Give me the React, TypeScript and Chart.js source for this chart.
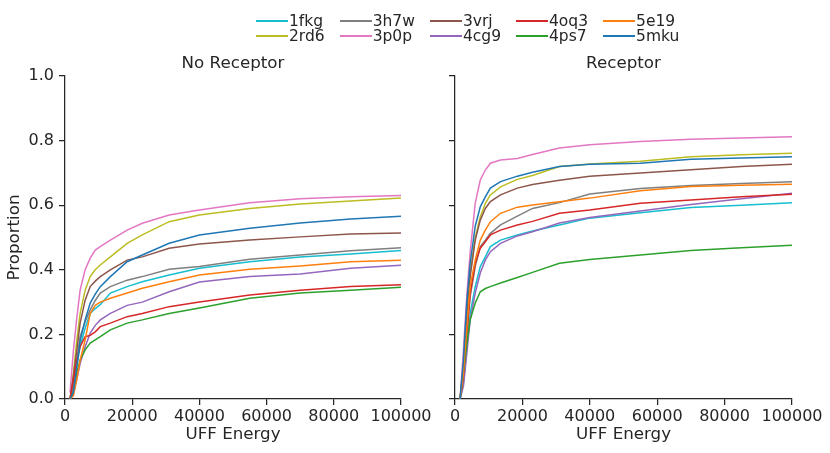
import React, { useEffect, useRef } from 'react';
import { Chart, registerables } from 'chart.js';

Chart.register(...registerables);

const FONT = "'DejaVu Sans', 'Liberation Sans', sans-serif";
const INK = '#262626';

// UFF energy grid (x) shared by every curve
const ENERGY = [1500, 2500, 3500, 4500, 6000, 7500, 9000, 10500, 13500, 18500, 23000, 31000, 40000, 55000, 70000, 85000, 100000];
const X_TICKS = [0, 20000, 40000, 60000, 80000, 100000];
const Y_TICKS = [0, 0.2, 0.4, 0.6, 0.8, 1.0];
const PANEL_TITLES = ['No Receptor', 'Receptor'];
const X_LABEL = 'UFF Energy';
const Y_LABEL = 'Proportion';

const LIGANDS = ['1fkg', '2rd6', '3h7w', '3p0p', '3vrj', '4cg9', '4oq3', '4ps7', '5e19', '5mku'];
const COLORS = ['#17becf', '#bcbd22', '#7f7f7f', '#e377c2', '#8c564b', '#9467bd', '#d62728', '#2ca02c', '#ff7f0e', '#1f77b4'];

// No Receptor panel
const NR_1FKG = [0, 0.03, 0.10, 0.162, 0.22, 0.265, 0.28, 0.292, 0.328, 0.348, 0.363, 0.384, 0.405, 0.425, 0.44, 0.449, 0.46];
const NR_2RD6 = [0, 0.08, 0.18, 0.265, 0.337, 0.379, 0.40, 0.415, 0.44, 0.482, 0.508, 0.549, 0.57, 0.59, 0.604, 0.613, 0.622];
const NR_3H7W = [0, 0.04, 0.12, 0.193, 0.24, 0.276, 0.305, 0.328, 0.348, 0.368, 0.379, 0.402, 0.41, 0.433, 0.446, 0.459, 0.468];
const NR_3P0P = [0.02, 0.15, 0.25, 0.337, 0.40, 0.436, 0.461, 0.472, 0.492, 0.523, 0.544, 0.57, 0.585, 0.608, 0.62, 0.626, 0.63];
const NR_3VRJ = [0, 0.07, 0.15, 0.235, 0.306, 0.348, 0.365, 0.379, 0.40, 0.43, 0.44, 0.467, 0.48, 0.492, 0.502, 0.511, 0.514];
const NR_4CG9 = [0, 0.02, 0.06, 0.11, 0.162, 0.204, 0.228, 0.245, 0.265, 0.29, 0.30, 0.332, 0.362, 0.379, 0.387, 0.405, 0.414];
const NR_4OQ3 = [0, 0.06, 0.12, 0.162, 0.193, 0.197, 0.208, 0.224, 0.235, 0.255, 0.265, 0.286, 0.30, 0.322, 0.337, 0.348, 0.354];
const NR_4PS7 = [0, 0.02, 0.08, 0.121, 0.152, 0.173, 0.183, 0.193, 0.214, 0.235, 0.245, 0.265, 0.282, 0.312, 0.328, 0.337, 0.346];
const NR_5E19 = [0, 0.01, 0.06, 0.12, 0.183, 0.265, 0.29, 0.30, 0.312, 0.328, 0.343, 0.363, 0.384, 0.402, 0.412, 0.425, 0.43];
const NR_5MKU = [0, 0.02, 0.10, 0.18, 0.245, 0.297, 0.325, 0.348, 0.379, 0.425, 0.446, 0.482, 0.508, 0.529, 0.545, 0.557, 0.566];

// Receptor panel
const R_1FKG = [0, 0.05, 0.16, 0.265, 0.348, 0.41, 0.44, 0.472, 0.492, 0.508, 0.52, 0.539, 0.56, 0.577, 0.593, 0.60, 0.608];
const R_2RD6 = [0, 0.10, 0.27, 0.39, 0.50, 0.564, 0.606, 0.632, 0.657, 0.68, 0.692, 0.72, 0.728, 0.736, 0.75, 0.756, 0.761];
const R_3H7W = [0, 0.07, 0.20, 0.317, 0.41, 0.472, 0.492, 0.513, 0.539, 0.566, 0.59, 0.608, 0.635, 0.652, 0.661, 0.667, 0.673];
const R_3P0P = [0, 0.15, 0.32, 0.455, 0.606, 0.678, 0.709, 0.73, 0.74, 0.745, 0.757, 0.777, 0.787, 0.797, 0.804, 0.808, 0.812];
const R_3VRJ = [0, 0.10, 0.26, 0.38, 0.492, 0.554, 0.59, 0.611, 0.632, 0.653, 0.664, 0.677, 0.69, 0.70, 0.71, 0.72, 0.727];
const R_4CG9 = [0, 0.04, 0.14, 0.245, 0.328, 0.39, 0.43, 0.456, 0.482, 0.505, 0.518, 0.545, 0.562, 0.582, 0.602, 0.62, 0.637];
const R_4OQ3 = [0, 0.07, 0.20, 0.327, 0.42, 0.467, 0.487, 0.508, 0.523, 0.539, 0.55, 0.575, 0.585, 0.606, 0.616, 0.626, 0.634];
const R_4PS7 = [0, 0.08, 0.17, 0.245, 0.297, 0.332, 0.342, 0.348, 0.359, 0.376, 0.392, 0.42, 0.432, 0.446, 0.46, 0.468, 0.476];
const R_5E19 = [0, 0.08, 0.22, 0.35, 0.43, 0.492, 0.523, 0.549, 0.575, 0.594, 0.601, 0.611, 0.622, 0.645, 0.658, 0.662, 0.665];
const R_5MKU = [0, 0.12, 0.30, 0.42, 0.535, 0.595, 0.626, 0.653, 0.673, 0.69, 0.702, 0.72, 0.727, 0.73, 0.742, 0.746, 0.75];

const NO_RECEPTOR = [NR_1FKG, NR_2RD6, NR_3H7W, NR_3P0P, NR_3VRJ, NR_4CG9, NR_4OQ3, NR_4PS7, NR_5E19, NR_5MKU];
const RECEPTOR = [R_1FKG, R_2RD6, R_3H7W, R_3P0P, R_3VRJ, R_4CG9, R_4OQ3, R_4PS7, R_5E19, R_5MKU];

const W = 830;
const H = 453;

function makeConfig(title: string, series: number[][], showYLabels: boolean, pad: any): any {
  return {
    type: 'line',
    data: {
      datasets: LIGANDS.map((name, i) => ({
        label: name,
        data: ENERGY.map((x, j) => ({ x, y: series[i][j] })),
        borderColor: COLORS[i],
        backgroundColor: COLORS[i],
        borderWidth: 1.5,
        pointRadius: 0,
        pointHoverRadius: 0,
        fill: false,
        tension: 0,
        order: LIGANDS.length - i,
      })),
    },
    options: {
      responsive: false,
      animation: false,
      events: [],
      layout: { padding: pad },
      plugins: {
        legend: { display: false },
        tooltip: { enabled: false },
        title: {
          display: true,
          text: title,
          fullSize: false,
          color: INK,
          font: { family: FONT, size: 16.7, weight: 'normal' },
          padding: { top: 0, bottom: 2 },
        },
      },
      scales: {
        x: {
          type: 'linear',
          min: 0,
          max: 100000,
          afterBuildTicks: (s: any) => {
            s.ticks = X_TICKS.map((v) => ({ value: v }));
          },
          afterFit: (s: any) => {
            s.height = 54;
            s.paddingLeft = 0;
            s.paddingRight = 0;
          },
          ticks: {
            color: INK,
            font: { family: FONT, size: 16 },
            padding: 2,
            maxRotation: 0,
            autoSkip: false,
            callback: (v: any) => String(v),
          },
          grid: { drawOnChartArea: false, drawTicks: true, tickLength: 6, color: INK, lineWidth: 1.25 },
          border: { display: true, color: INK, width: 1.25 },
          title: {
            display: true,
            text: X_LABEL,
            color: INK,
            font: { family: FONT, size: 16.7 },
            padding: { top: 0, bottom: 8 },
          },
        },
        y: {
          type: 'linear',
          min: 0,
          max: 1,
          afterBuildTicks: (s: any) => {
            s.ticks = Y_TICKS.map((v) => ({ value: v }));
          },
          afterFit: (s: any) => {
            s.width = showYLabels ? 65 : 10;
            s.paddingTop = 0;
            s.paddingBottom = 0;
          },
          ticks: {
            color: showYLabels ? INK : 'rgba(0,0,0,0)',
            font: { family: FONT, size: 16 },
            padding: 5,
            autoSkip: false,
            callback: (v: any) => Number(v).toFixed(1),
          },
          grid: { drawOnChartArea: false, drawTicks: true, tickLength: 6, color: INK, lineWidth: 1.25 },
          border: { display: true, color: INK, width: 1.25 },
          title: {
            display: showYLabels,
            text: Y_LABEL,
            color: INK,
            font: { family: FONT, size: 16.7 },
            padding: { top: 5, bottom: 0 },
          },
        },
      },
    },
  };
}

export default function App() {
  const leftRef = useRef<HTMLCanvasElement | null>(null);
  const rightRef = useRef<HTMLCanvasElement | null>(null);

  useEffect(() => {
    const left = new Chart(
      leftRef.current as HTMLCanvasElement,
      makeConfig(PANEL_TITLES[0], NO_RECEPTOR, true, { left: 0, right: W - 401, top: 54, bottom: 0 })
    );
    const right = new Chart(
      rightRef.current as HTMLCanvasElement,
      makeConfig(PANEL_TITLES[1], RECEPTOR, false, { left: 445, right: W - 792, top: 54, bottom: 0 })
    );
    return () => {
      left.destroy();
      right.destroy();
    };
  }, []);

  const columns = [0, 1, 2, 3, 4].map((c) => [c * 2, c * 2 + 1]);

  return (
    <div style={{ position: 'fixed', left: 0, top: 0, width: W, height: H, background: '#fff', overflow: 'hidden' }}>
      <canvas ref={leftRef} width={W} height={H} style={{ position: 'absolute', left: 0, top: 0, width: W, height: H }} />
      <canvas ref={rightRef} width={W} height={H} style={{ position: 'absolute', left: 0, top: 0, width: W, height: H }} />
      <div
        style={{
          position: 'absolute',
          left: 256,
          top: 14,
          display: 'flex',
          gap: 15,
          fontFamily: FONT,
          fontSize: 15.5,
          color: INK,
          lineHeight: '14.5px',
        }}
      >
        {columns.map((col, ci) => (
          <div key={ci}>
            {col.map((i) => (
              <div key={i} style={{ display: 'flex', alignItems: 'center', height: 14.5 }}>
                <span style={{ display: 'inline-block', width: 32, height: 2, background: COLORS[i], marginRight: 1 }} />
                <span>{LIGANDS[i]}</span>
              </div>
            ))}
          </div>
        ))}
      </div>
    </div>
  );
}
